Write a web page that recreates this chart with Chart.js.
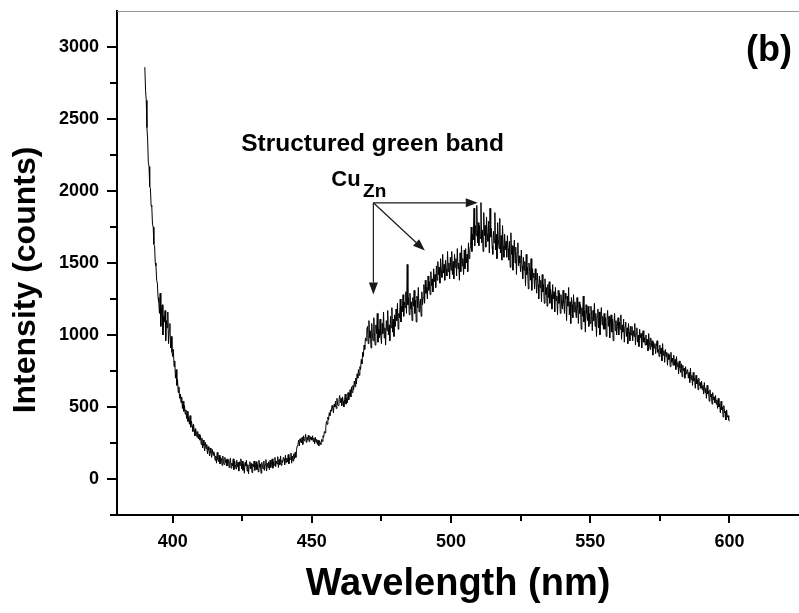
<!DOCTYPE html>
<html>
<head>
<meta charset="utf-8">
<script src="https://cdn.jsdelivr.net/npm/chart.js@4"></script>
<style>
  html, body { margin: 0; padding: 0; background: #fff; }
</style>
</head>
<body>
<canvas id="plChart" width="799" height="613"></canvas>
<script>
// PL spectrum, panel (b)

// sampling grid of the spectrum (nm)
const startNm = 390;
const stepNm = 0.25;

// intensity, one value per 0.25 nm from 390 to 600 (20 per row = 5 nm)
const counts = [
  2860, 2700, 2630, 2440, 2360, 2200, 2170, 2030, 2020, 1900, 1890, 1770, 1750, 1630, 1620, 1500, 1480, 1380, 1360, 1260,
  1230, 1150, 1290, 1060, 1180, 1210, 1000, 1130, 1090, 1170, 960, 1100, 1050, 1160, 940, 1030, 1080, 910, 990, 880,
  850, 900, 780, 820, 700, 760, 650, 690, 600, 640, 560, 590, 530, 570, 490, 540, 470, 510, 450, 480,
  420, 470, 400, 430, 380, 440, 360, 400, 370, 330, 380, 340, 300, 350, 320, 290, 330, 280, 310, 270,
  300, 240, 285, 215, 270, 230, 195, 255, 210, 240, 175, 225, 200, 160, 215, 180, 150, 205, 165, 190,
  175, 130, 160, 110, 185, 135, 120, 165, 105, 150, 140, 95, 160, 120, 100, 150, 115, 135, 90, 140,
  135, 80, 120, 145, 75, 110, 90, 140, 65, 125, 100, 70, 130, 85, 115, 55, 120, 95, 140, 70,
  125, 60, 105, 40, 115, 90, 130, 55, 100, 35, 95, 120, 70, 110, 45, 105, 85, 125, 60, 90,
  120, 65, 100, 50, 130, 80, 105, 40, 115, 90, 70, 125, 60, 100, 135, 55, 110, 80, 120, 65,
  130, 80, 115, 140, 75, 120, 95, 150, 85, 125, 105, 155, 80, 135, 100, 160, 95, 130, 115, 150,
  140, 100, 165, 115, 145, 120, 170, 105, 150, 135, 180, 110, 160, 125, 175, 140, 185, 150, 205, 230,
  240, 270, 230, 280, 260, 250, 290, 240, 300, 265, 280, 310, 255, 290, 270, 305, 260, 300, 275, 290,
  270, 300, 260, 285, 245, 290, 255, 275, 240, 270, 230, 265, 250, 240, 275, 260, 300, 290, 330, 320,
  360, 400, 380, 430, 410, 460, 440, 480, 470, 510, 490, 460, 520, 500, 540, 490, 560, 520, 510, 550,
  580, 530, 560, 510, 570, 540, 500, 550, 590, 520, 560, 530, 600, 550, 580, 620, 570, 640, 600, 650,
  620, 680, 640, 700, 660, 730, 700, 760, 720, 780, 760, 830, 800, 880, 850, 930, 900, 980, 960, 1040,
  1060, 940, 1100, 980, 1030, 910, 1080, 1000, 960, 1120, 990, 930, 1070, 1010, 1150, 950, 1040, 980, 1110, 1000,
  940, 1080, 1010, 1160, 980, 1050, 930, 1100, 1030, 1170, 1000, 1070, 960, 1130, 1050, 1190, 1020, 1110, 990, 1140,
  1060, 1180, 1100, 1220, 1040, 1150, 1120, 1250, 1090, 1200, 1160, 1280, 1130, 1230, 1190, 1300, 1150, 1490, 1210, 1260,
  1140, 1290, 1180, 1230, 1100, 1260, 1200, 1310, 1150, 1240, 1090, 1270, 1190, 1330, 1160, 1220, 1250, 1130, 1300, 1210,
  1260, 1350, 1220, 1380, 1290, 1330, 1250, 1410, 1310, 1370, 1280, 1440, 1340, 1390, 1300, 1460, 1370, 1420, 1330, 1480,
  1380, 1510, 1420, 1470, 1360, 1530, 1450, 1400, 1560, 1430, 1490, 1380, 1520, 1460, 1410, 1580, 1440, 1500, 1390, 1540,
  1450, 1580, 1420, 1510, 1390, 1560, 1470, 1530, 1410, 1600, 1460, 1500, 1380, 1570, 1440, 1620, 1480, 1530, 1420, 1590,
  1460, 1600, 1500, 1560, 1440, 1640, 1530, 1590, 1620, 1750, 1580, 1700, 1660, 1880, 1620, 1760, 1690, 1900, 1640, 1780,
  1620, 1760, 1670, 1920, 1640, 1730, 1580, 1850, 1690, 1760, 1610, 1820, 1700, 1650, 1790, 1570, 1880, 1680, 1740, 1620,
  1560, 1720, 1640, 1850, 1590, 1700, 1530, 1780, 1660, 1600, 1810, 1570, 1690, 1520, 1760, 1620, 1540, 1700, 1590, 1650,
  1540, 1690, 1600, 1520, 1650, 1470, 1710, 1560, 1620, 1450, 1580, 1660, 1500, 1610, 1420, 1570, 1640, 1480, 1550, 1500,
  1440, 1590, 1480, 1390, 1540, 1450, 1510, 1340, 1560, 1420, 1470, 1320, 1500, 1440, 1380, 1530, 1310, 1460, 1400, 1430,
  1320, 1460, 1380, 1290, 1430, 1350, 1250, 1410, 1330, 1380, 1230, 1420, 1300, 1350, 1220, 1390, 1280, 1330, 1200, 1350,
  1260, 1370, 1220, 1320, 1280, 1180, 1350, 1250, 1300, 1160, 1330, 1240, 1270, 1140, 1310, 1220, 1290, 1150, 1280, 1210,
  1180, 1310, 1220, 1150, 1290, 1250, 1100, 1270, 1200, 1330, 1140, 1230, 1080, 1260, 1210, 1120, 1280, 1160, 1230, 1170,
  1120, 1260, 1190, 1080, 1230, 1150, 1210, 1040, 1190, 1130, 1270, 1090, 1170, 1020, 1210, 1150, 1100, 1200, 1060, 1150,
  1080, 1200, 1140, 1030, 1170, 1100, 1220, 1060, 1150, 990, 1130, 1180, 1050, 1160, 1000, 1120, 1190, 1070, 1130, 1040,
  1150, 1040, 1120, 990, 1100, 1170, 1060, 1130, 980, 1090, 1140, 1020, 1110, 960, 1080, 1150, 1030, 1100, 1000, 1060,
  1120, 1000, 1090, 1040, 1140, 970, 1070, 1020, 1110, 950, 1060, 1090, 990, 1050, 940, 1080, 1020, 960, 1060, 1000,
  1060, 960, 1030, 990, 1080, 930, 1010, 1050, 950, 1000, 920, 1040, 980, 1010, 910, 990, 1030, 950, 980, 930,
  1000, 930, 970, 890, 1010, 950, 900, 980, 920, 960, 860, 950, 910, 940, 870, 920, 960, 880, 900, 850,
  930, 870, 910, 820, 940, 860, 890, 810, 900, 850, 880, 790, 870, 830, 860, 780, 880, 810, 840, 790,
  860, 790, 830, 760, 850, 780, 810, 730, 820, 770, 740, 800, 710, 790, 750, 770, 700, 780, 730, 750,
  760, 700, 740, 670, 770, 690, 720, 650, 740, 680, 700, 630, 720, 660, 690, 620, 700, 650, 670, 630,
  680, 620, 650, 590, 670, 600, 630, 560, 650, 590, 610, 540, 620, 570, 590, 520, 600, 550, 570, 530,
  580, 520, 550, 490, 560, 500, 520, 460, 540, 480, 500, 430, 510, 460, 470, 410, 480, 430, 440, 410,
  400
];

// tick positions (labels only on the major ones)
const xTicks = [400, 425, 450, 475, 500, 525, 550, 575, 600];
const yTicks = [-250, 0, 250, 500, 750, 1000, 1250, 1500, 1750, 2000, 2250, 2500, 2750, 3000];

// annotation (data units)
const bandLabel = { text: 'Structured green band', x: 471.8, y: 2275 };
const cuLabel = { x: 457.0, y: 2037 };
const znLabel = { x: 468.4, y: 1961 };
const arrowFrom = { x: 472.1, y: 1918 };
const arrowTips = [
  { x: 509.6, y: 1918 },
  { x: 490.6, y: 1586 },
  { x: 472.1, y: 1281 }
];
const panelLabel = { text: '(b)', x: 614.2, y: 2905 };
const yTitle = 'Intensity (counts)';

const fontFamily = "'Liberation Sans', Arial, sans-serif";

const points = counts.map((c, i) => ({ x: startNm + i * stepNm, y: c }));

function drawArrow(ctx, x1, y1, x2, y2) {
  const ang = Math.atan2(y2 - y1, x2 - x1);
  const headLen = 12, headHalf = 4.5;
  const bx = x2 - headLen * Math.cos(ang), by = y2 - headLen * Math.sin(ang);
  ctx.beginPath();
  ctx.moveTo(x1, y1);
  ctx.lineTo(bx, by);
  ctx.stroke();
  ctx.beginPath();
  ctx.moveTo(x2, y2);
  ctx.lineTo(bx + headHalf * Math.sin(ang), by - headHalf * Math.cos(ang));
  ctx.lineTo(bx - headHalf * Math.sin(ang), by + headHalf * Math.cos(ang));
  ctx.closePath();
  ctx.fill();
}

// tick marks, top frame line, y title and the text/arrows
const decorPlugin = {
  id: 'decor',
  afterDraw(chart) {
    const { ctx, chartArea: a, scales: { x, y } } = chart;
    ctx.save();

    ctx.strokeStyle = '#9a9a9a';
    ctx.lineWidth = 1;
    ctx.beginPath();
    ctx.moveTo(a.left, a.top + 0.5);
    ctx.lineTo(a.right, a.top + 0.5);
    ctx.stroke();

    ctx.strokeStyle = '#000';
    ctx.lineWidth = 2;
    yTicks.forEach(v => {
      const py = Math.round(y.getPixelForValue(v));
      const len = v % 500 === 0 ? 10 : 7;
      ctx.beginPath();
      ctx.moveTo(a.left - len, py);
      ctx.lineTo(a.left, py);
      ctx.stroke();
    });
    xTicks.forEach(v => {
      const px = Math.round(x.getPixelForValue(v));
      const len = v % 50 === 0 ? 8 : 6;
      ctx.beginPath();
      ctx.moveTo(px, a.bottom);
      ctx.lineTo(px, a.bottom + len);
      ctx.stroke();
    });

    ctx.fillStyle = '#000';

    // y axis title, a little below the middle of the axis as in the figure
    ctx.save();
    ctx.translate(26, 280);
    ctx.rotate(-Math.PI / 2);
    ctx.textAlign = 'center';
    ctx.textBaseline = 'middle';
    ctx.font = 'bold 32px ' + fontFamily;
    ctx.fillText(yTitle, 0, 0);
    ctx.restore();

    ctx.textBaseline = 'alphabetic';
    ctx.textAlign = 'center';
    ctx.font = 'bold 24.5px ' + fontFamily;
    ctx.fillText(bandLabel.text, x.getPixelForValue(bandLabel.x), y.getPixelForValue(bandLabel.y));

    ctx.textAlign = 'left';
    ctx.font = 'bold 22px ' + fontFamily;
    ctx.fillText('Cu', x.getPixelForValue(cuLabel.x), y.getPixelForValue(cuLabel.y));
    ctx.font = 'bold 19px ' + fontFamily;
    ctx.fillText('Zn', x.getPixelForValue(znLabel.x), y.getPixelForValue(znLabel.y));

    ctx.textAlign = 'center';
    ctx.font = 'bold 36px ' + fontFamily;
    ctx.fillText(panelLabel.text, x.getPixelForValue(panelLabel.x), y.getPixelForValue(panelLabel.y));

    ctx.strokeStyle = '#1a1a1a';
    ctx.fillStyle = '#1a1a1a';
    ctx.lineWidth = 1.2;
    const ox = x.getPixelForValue(arrowFrom.x), oy = y.getPixelForValue(arrowFrom.y);
    arrowTips.forEach(t => {
      drawArrow(ctx, ox, oy, x.getPixelForValue(t.x), y.getPixelForValue(t.y));
    });

    ctx.restore();
  }
};

const ctx = document.getElementById('plChart').getContext('2d');

new Chart(ctx, {
  type: 'line',
  data: {
    datasets: [{
      data: points,
      borderColor: '#000',
      borderWidth: 1,
      pointRadius: 0,
      tension: 0,
      fill: false
    }]
  },
  options: {
    responsive: false,
    animation: false,
    layout: { padding: { top: 11, right: 0, bottom: 0, left: 0 } },
    plugins: {
      legend: { display: false },
      tooltip: { enabled: false }
    },
    scales: {
      x: {
        type: 'linear',
        min: 380,
        max: 625,
        afterBuildTicks: s => { s.ticks = xTicks.map(v => ({ value: v })); },
        afterFit: s => {
          s.height = 98;
          s.paddingLeft = 0;
          s.paddingRight = 0;
        },
        grid: { display: false, drawTicks: false },
        border: { display: true, color: '#000', width: 2 },
        ticks: {
          autoSkip: false,
          maxRotation: 0,
          padding: 16,
          color: '#000',
          font: { family: fontFamily, size: 18, weight: 'bold' },
          callback: v => (v % 50 === 0 ? String(v) : '')
        },
        title: {
          display: true,
          text: 'Wavelength (nm)',
          color: '#000',
          font: { family: fontFamily, size: 38, weight: 'bold' },
          padding: { top: 0, bottom: 6 }
        }
      },
      y: {
        min: -250,
        max: 3250,
        afterBuildTicks: s => { s.ticks = yTicks.map(v => ({ value: v })); },
        afterFit: s => {
          s.width = 117;
          s.paddingTop = 0;
          s.paddingBottom = 0;
        },
        grid: { display: false, drawTicks: false },
        border: { display: true, color: '#000', width: 2 },
        ticks: {
          autoSkip: false,
          padding: 18,
          color: '#000',
          font: { family: fontFamily, size: 18, weight: 'bold' },
          callback: v => (v >= 0 && v % 500 === 0 ? String(v) : '')
        }
      }
    }
  },
  plugins: [decorPlugin]
});
</script>
</body>
</html>
